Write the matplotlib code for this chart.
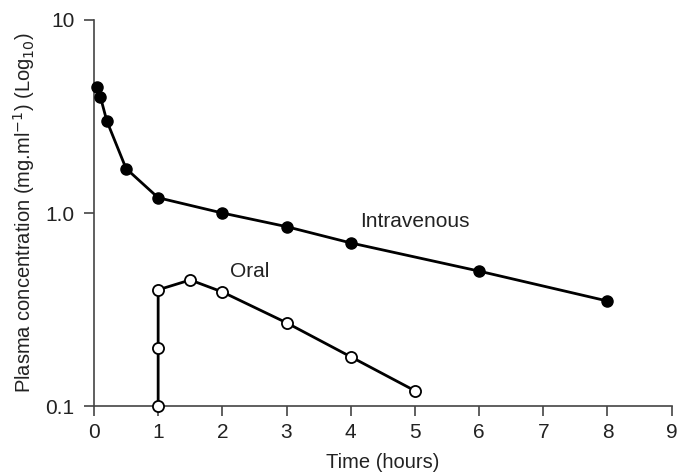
import numpy as np
import matplotlib.pyplot as plt

plt.rcParams['font.family'] = ['Liberation Sans', 'DejaVu Sans']

# Intravenous dose
iv_time = [0.05, 0.1, 0.2, 0.5, 1, 2, 3, 4, 6, 8]
iv_conc = [4.5, 4.0, 3.0, 1.7, 1.2, 1.0, 0.85, 0.70, 0.50, 0.35]

# Oral dose
oral_time = [1, 1, 1, 1.5, 2, 3, 4, 5]
oral_conc = [0.1, 0.2, 0.4, 0.45, 0.39, 0.27, 0.18, 0.12]

x_ticks = [0, 1, 2, 3, 4, 5, 6, 7, 8, 9]
y_ticks = [0.1, 1.0, 10]
y_tick_labels = ['0.1', '1.0', '10']

fig = plt.figure(figsize=(6.78, 4.76), dpi=100)
ax = fig.add_axes([0.1386, 0.147, 0.852, 0.811])

ax.plot(iv_time, iv_conc, color='k', lw=2, marker='o', ms=8,
        mfc='k', mec='k', clip_on=False, zorder=3)
ax.plot(oral_time, oral_conc, color='k', lw=2, marker='o', ms=8,
        mfc='white', mec='k', mew=1.3, clip_on=False, zorder=3)

ax.set_yscale('log')
ax.set_xlim(0, 9)
ax.set_ylim(0.1, 10)
ax.set_xticks(x_ticks)
ax.set_yticks(y_ticks)
ax.set_yticklabels(y_tick_labels)
ax.minorticks_off()

for s in ['top', 'right']:
    ax.spines[s].set_visible(False)
for s in ['left', 'bottom']:
    ax.spines[s].set_color('#444444')
    ax.spines[s].set_linewidth(1.2)
ax.tick_params(axis='both', direction='out', length=7, width=1.2,
               color='#444444', labelsize=15, labelcolor='#222222', pad=5)
ax.tick_params(axis='y', pad=7)

ax.text(4.14, 0.90, 'Intravenous', fontsize=15, color='#222222', ha='left', va='center')
ax.text(2.12, 0.495, 'Oral', fontsize=15, color='#222222', ha='left', va='center')

ax.set_xlabel('Time (hours)', fontsize=14.5, color='#222222', labelpad=8)
ax.set_ylabel('Plasma concentration (mg.ml$^{-1}$) (Log$_{10}$)', fontsize=14.5,
              color='#222222', labelpad=6)

fig.savefig('out.png', dpi=100)
